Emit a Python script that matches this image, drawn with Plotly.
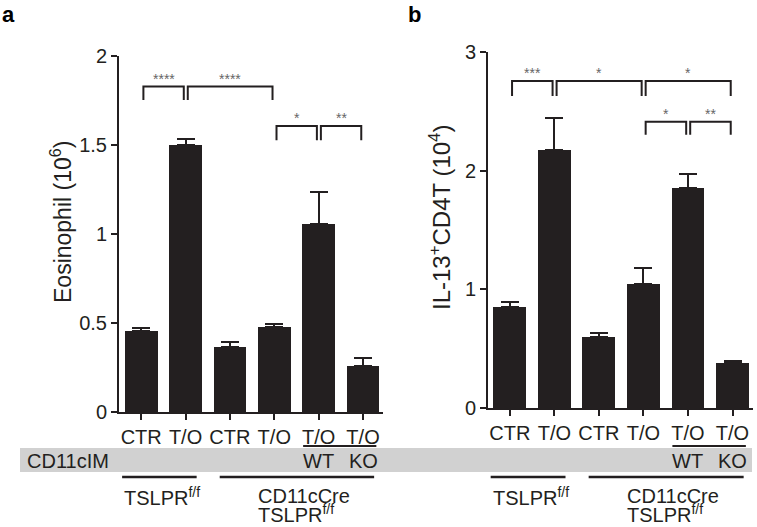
import plotly.graph_objects as go

W, H = 757, 527

categories = ["CTR", "T/O", "CTR", "T/O", "T/O", "T/O"]
eos_mean = [0.455, 1.50, 0.367, 0.479, 1.056, 0.258]
eos_err = [0.017, 0.035, 0.028, 0.018, 0.182, 0.045]
il13_mean = [0.848, 2.17, 0.60, 1.047, 1.85, 0.376]
il13_err = [0.048, 0.27, 0.03, 0.133, 0.12, 0.024]

# significance brackets: (left bar, right bar, label, level)
sig_a = [(0, 1, "****", "hi"), (1, 3, "****", "hi"), (3, 4, "*", "lo"), (4, 5, "**", "lo")]
sig_b = [(0, 1, "***", "hi"), (1, 3, "*", "hi"), (3, 5, "*", "hi"), (3, 4, "*", "lo"), (4, 5, "**", "lo")]
levels_a = {"hi": (1.828, 0.075), "lo": (1.607, 0.08)}
levels_b = {"hi": (2.755, 0.125), "lo": (2.412, 0.11)}

y_ticks_a = [0, 0.5, 1, 1.5, 2]
y_tick_text_a = ["0", "0.5", "1", "1.5", "2"]
y_ticks_b = [0, 1, 2, 3]
y_tick_text_b = ["0", "1", "2", "3"]

INK = "#231f20"
FONT = "Liberation Sans, Arial, sans-serif"
x_idx = list(range(len(categories)))

def px(x):
    return x / W

def py(y):
    return 1 - y / H

fig = go.Figure()
for mean, err, xa, ya in [(eos_mean, eos_err, "x", "y"), (il13_mean, il13_err, "x2", "y2")]:
    fig.add_trace(go.Bar(
        x=x_idx, y=mean, xaxis=xa, yaxis=ya, width=0.74,
        marker=dict(color=INK, line=dict(width=0)),
        error_y=dict(type="data", symmetric=False, array=err, arrayminus=[0] * len(err),
                     color=INK, thickness=2, width=9),
        showlegend=False, hoverinfo="skip"))

axis_common = dict(showline=True, linecolor=INK, linewidth=2, ticks="outside",
                   tickcolor=INK, ticklen=6, tickwidth=2, showgrid=False, zeroline=False,
                   automargin=False,
                   tickfont=dict(family=FONT, size=20, color=INK), fixedrange=True)

fig.update_layout(
    width=W, height=H, margin=dict(l=0, r=0, t=0, b=0, pad=0), autosize=False,
    paper_bgcolor="white", plot_bgcolor="white", bargap=0,
    font=dict(family=FONT, color=INK),
    xaxis=dict(domain=[px(119), px(383)], range=[-0.5, 5.45], anchor="y",
               tickvals=x_idx, ticktext=categories, **axis_common),
    yaxis=dict(domain=[py(412), py(56)], range=[0, 2], anchor="x",
               tickvals=y_ticks_a, ticktext=y_tick_text_a, **axis_common),
    xaxis2=dict(domain=[px(488), px(753)], range=[-0.49, 5.46], anchor="y2",
                tickvals=x_idx, ticktext=categories, **axis_common),
    yaxis2=dict(domain=[py(408), py(52)], range=[0, 3], anchor="x2",
                tickvals=y_ticks_b, ticktext=y_tick_text_b, **axis_common),
)

shapes = []
annotations = []

def txt(x, y, text, xref="paper", yref="paper", size=20, xanchor="center", color=INK, **kw):
    annotations.append(dict(x=x, y=y, xref=xref, yref=yref, text=text, showarrow=False,
                            xanchor=xanchor, yanchor=kw.pop("yanchor", "middle"),
                            font=dict(family=FONT, size=size, color=color), **kw))

# gray band
shapes.append(dict(type="rect", xref="paper", yref="paper", x0=px(20), x1=px(752),
                   y0=py(472), y1=py(448), fillcolor="#d1d1d1", line=dict(width=0), layer="below"))

for sig, lv, xr, yr in [(sig_a, levels_a, "x", "y"), (sig_b, levels_b, "x2", "y2")]:
    for i, j, lab, lvl in sig:
        top, leg = lv[lvl]
        x0, x1 = i + 0.05, j - 0.04
        shapes.append(dict(type="path", xref=xr, yref=yr,
                           path=f"M {x0},{top-leg} L {x0},{top} L {x1},{top} L {x1},{top-leg}",
                           line=dict(color=INK, width=2)))
        txt((x0 + x1) / 2, top, lab, xref=xr, yref=yr, size=14, color="#666666",
            yanchor="bottom", yshift=-2)

    # sub labels
    for k, t in [(4, "WT"), (5, "KO")]:
        txt(k, py(461), t, xref=xr)
    shapes.append(dict(type="line", xref=xr, yref="paper", x0=3.65, x1=5.3, y0=py(446), y1=py(446),
                       line=dict(color=INK, width=2)))
    shapes.append(dict(type="line", xref=xr, yref="paper", x0=-0.43, x1=1.25, y0=py(477), y1=py(477),
                       line=dict(color=INK, width=2.5)))
    shapes.append(dict(type="line", xref=xr, yref="paper", x0=1.77, x1=5.25, y0=py(477), y1=py(477),
                       line=dict(color=INK, width=2.5)))
    txt(-0.43, py(496), "TSLPR<sup>f/f</sup>", xref=xr, xanchor="left")
    txt(2.58, py(496), "CD11cCre", xref=xr, xanchor="left")
    txt(2.58, py(513), "TSLPR<sup>f/f</sup>", xref=xr, xanchor="left")

txt(px(25), py(461), "CD11cIM", xanchor="left")

# axis titles
txt(px(61), py(222), "Eosinophil (10<sup>6</sup>)", size=23, textangle=-90)
txt(px(440), py(218), "IL-13<sup>+</sup>CD4T (10<sup>4</sup>)", size=24, textangle=-90)

# panel letters
txt(px(0), py(14), "<b>a</b>", size=22, xanchor="left", color="black")
txt(px(406), py(14), "<b>b</b>", size=22, xanchor="left", color="black")

fig.update_layout(shapes=shapes, annotations=annotations)
fig.write_html("out.html", config={"displayModeBar": False},
               post_script="document.body.style.margin='0';document.body.style.overflow='hidden';")
